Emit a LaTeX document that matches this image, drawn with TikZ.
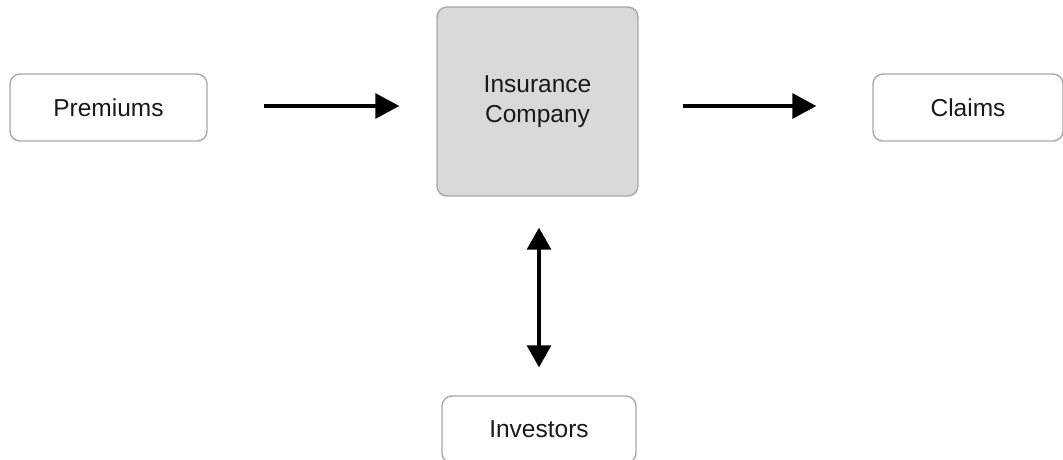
\documentclass[tikz,border=0pt]{standalone}
\usepackage{fontspec}
\setmainfont{Liberation Sans}
\usetikzlibrary{arrows.meta}
\definecolor{boxline}{HTML}{A8A8A8}
\definecolor{boxfill}{HTML}{D9D9D9}
\begin{document}
\begin{tikzpicture}[x=1pt,y=-1pt,
  entity/.style={draw=boxline, line width=1.4pt, rounded corners=10pt, fill=white,
    minimum width=197pt, minimum height=67pt, inner sep=0pt,
    font=\fontsize{24.5}{30}\selectfont, text=black!90},
  core/.style={entity, fill=boxfill, minimum width=201pt, minimum height=189pt, align=center},
  flow/.style={line width=3.2pt, -{Triangle[length=24pt,width=25pt]}},
  both/.style={line width=3.2pt, {Triangle[length=22pt,width=24pt]}-{Triangle[length=22pt,width=24pt]}}]
  \useasboundingbox (0,0) rectangle (1063,459);
  \clip (0,0) rectangle (1063,459);
  \node[entity] (prem) at (108.5,107.5) {Premiums};
  \node[core] (ins) at (537.5,101.5) {Insurance\\Company};
  \node[entity, minimum width=190pt] (claims) at (968,107.5) {Claims};
  \node[entity, minimum width=194pt] (inv) at (539,429.5) {Investors};
  \draw[flow, shorten <=56pt, shorten >=37pt] (prem.east |- 0,106) -- (ins.west |- 0,106);
  \draw[flow, shorten <=44pt, shorten >=56pt] (ins.east |- 0,106) -- (claims.west |- 0,106);
  \draw[both, shorten <=31pt, shorten >=28pt] (ins.south -| inv.north) -- (inv.north);
\end{tikzpicture}
\end{document}
